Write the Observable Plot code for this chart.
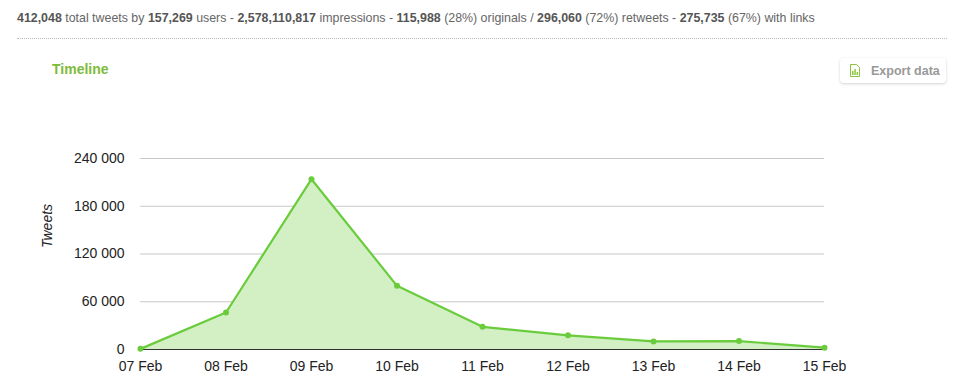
<!DOCTYPE html>
<html>
<head>
<meta charset="utf-8">
<script src="https://cdn.jsdelivr.net/npm/d3@7"></script>
<script src="https://cdn.jsdelivr.net/npm/@observablehq/plot@0.6"></script>
<style>
  html, body { margin: 0; padding: 0; background: #fff; }
  body { width: 968px; height: 391px; position: relative; overflow: hidden; font-family: "Liberation Sans", Arial, Helvetica, sans-serif; }
  #stats { position: absolute; left: 17px; top: 11px; font-size: 12.4px; color: #666; white-space: nowrap; }
  #stats b { color: #555; }
  #rule { position: absolute; left: 17px; top: 38px; width: 930px; border-top: 1px dotted #bbb; }
  #title { position: absolute; left: 52px; top: 61px; font-size: 14px; font-weight: bold; color: #7dbb3b; }
  #export { position: absolute; left: 840px; top: 58px; width: 106px; height: 25px; border-radius: 4px; background: #fff;
            box-shadow: 0 1px 3px rgba(0,0,0,0.18); font-size: 12.5px; font-weight: bold; color: #999; box-sizing: border-box; }
  #export span { position: absolute; left: 31px; top: 6px; }
  #export svg { position: absolute; left: 10px; top: 6px; }
  #chart { position: absolute; left: 0; top: 140px; }
</style>
</head>
<body>
<div id="stats"></div>
<div id="rule"></div>
<div id="title">Timeline</div>
<div id="export">
  <svg width="10" height="13" viewBox="0 0 10 13"><path d="M0.5 0.5 H6.5 L9.5 3.5 V12.5 H0.5 Z" fill="none" stroke="#8cc63f" stroke-width="1"/><rect x="2" y="7" width="1.5" height="4" fill="#8cc63f"/><rect x="4.3" y="5" width="1.5" height="6" fill="#8cc63f"/><rect x="6.6" y="8" width="1.5" height="3" fill="#8cc63f"/></svg>
  <span>Export data</span>
</div>
<div id="chart"></div>
<script>
// Header stats
const statNumbers = ["412,048", "157,269", "2,578,110,817", "115,988", "296,060", "275,735"];
const statTexts = [" total tweets by ", " users - ", " impressions - ", " (28%) originals / ", " (72%) retweets - ", " (67%) with links"];

// Chart data
const days = ["2013-02-07", "2013-02-08", "2013-02-09", "2013-02-10", "2013-02-11", "2013-02-12", "2013-02-13", "2013-02-14", "2013-02-15"];
const tweets = [800, 46500, 214000, 80000, 28500, 17800, 10200, 10600, 2300];
const yTicks = [0, 60000, 120000, 180000, 240000];

document.getElementById("stats").innerHTML = statNumbers.map((n, i) => `<b>${n}</b>${statTexts[i]}`).join("");

const parse = d3.utcParse("%Y-%m-%d");
const data = days.map((d, i) => ({date: parse(d), value: tweets[i]}));
const fmtY = d => d3.format(",")(d).replace(/,/g, " ");

const green = "#6acc3c";
const plot = Plot.plot({
  width: 968,
  height: 251,
  marginLeft: 140,
  marginRight: 144,
  marginTop: 18,
  marginBottom: 42,
  style: {fontFamily: "'Liberation Sans', Arial, Helvetica, sans-serif", fontSize: "14px", color: "#222", background: "#fff"},
  x: {type: "utc", domain: [data[0].date, data[data.length - 1].date], label: null},
  y: {domain: [0, 240000], label: null},
  marks: [
    Plot.gridY(yTicks.filter(t => t > 0), {stroke: "#c8c8c8", strokeOpacity: 1, strokeWidth: 1}),
    Plot.areaY(data, {x: "date", y: "value", fill: "#d3f0c5", fillOpacity: 1}),
    Plot.ruleY([0], {stroke: "#333", strokeWidth: 1}),
    Plot.lineY(data, {x: "date", y: "value", stroke: green, strokeWidth: 2.2}),
    Plot.dot(data, {x: "date", y: "value", fill: green, r: 3}),
    Plot.axisX({ticks: data.map(d => d.date), tickFormat: d3.utcFormat("%d %b"), tickSize: 0, tickPadding: 12, fontSize: 14, label: null}),
    Plot.axisY({ticks: yTicks, tickFormat: fmtY, tickSize: 0, tickPadding: 16, fontSize: 14, label: null}),
    Plot.text(["Tweets"], {frameAnchor: "left", dx: -93, dy: -6, rotate: -90, fontStyle: "italic", fontSize: 14, fill: "#222"})
  ]
});
document.getElementById("chart").appendChild(plot);
</script>
</body>
</html>
